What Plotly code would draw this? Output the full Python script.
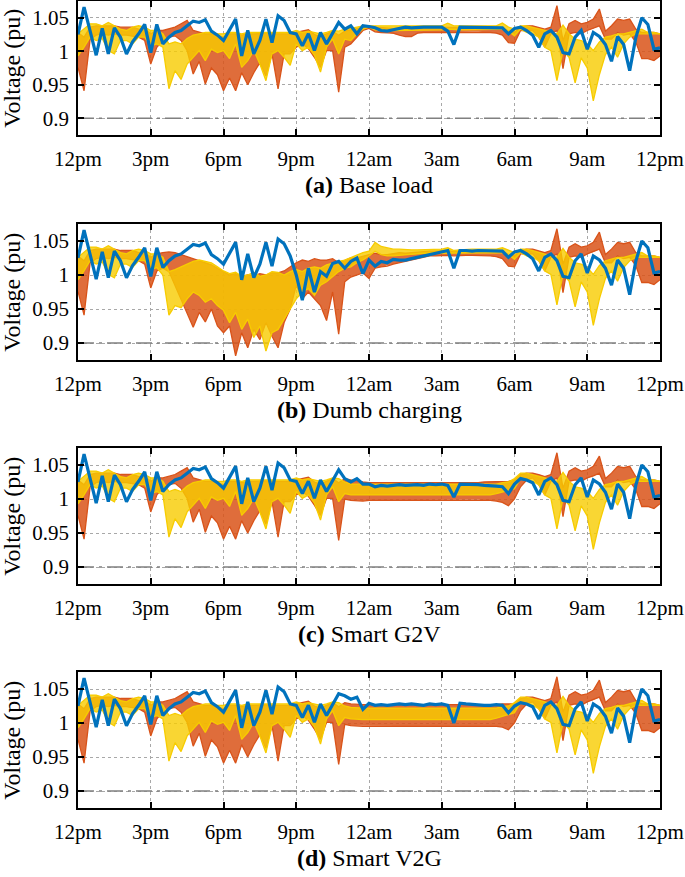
import plotly.graph_objects as go

# ---------------- data (15-minute samples, 12pm -> 12pm) ----------------
TICK_HOURS = [0, 3, 6, 9, 12, 15, 18, 21, 24]
TICK_TEXT = ["12pm", "3pm", "6pm", "9pm", "12am", "3am", "6am", "9am", "12pm"]
Y_TICKS = [0.9, 0.95, 1.0, 1.05]
Y_TICK_TEXT = ["0.9", "0.95", "1", "1.05"]
LIMIT = 0.9
HOURS = [i * 0.25 for i in range(97)]

# shared 12pm-2:45pm segment (i0-i11)
NOON_BLUE = [1.025, 1.066, 1.030, 0.994, 1.034, 0.996, 1.035, 1.021, 0.996, 1.014, 1.026, 1.040]
NOON_ORANGE_TOP = [1.028, 1.021, 1.036, 1.038, 1.038, 1.038, 1.038, 1.036, 1.036, 1.036, 1.033, 1.033]
NOON_ORANGE_BOT = [0.976, 0.941, 1.018, 1.024, 1.026, 1.024, 1.026, 1.024, 1.024, 1.022, 1.021, 1.016]
NOON_YELLOW_TOP = [1.026, 1.034, 1.041, 1.041, 1.038, 1.043, 1.038, 1.033, 1.031, 1.036, 1.038, 1.036]
NOON_YELLOW_BOT = [0.993, 1.006, 1.021, 1.016, 1.019, 1.001, 0.996, 1.016, 1.016, 1.011, 1.021, 1.021]

# shared 7am-12pm segment (i76-i96)
MORN_BLUE = [1.006, 1.026, 1.031, 1.021, 0.998, 0.996, 1.021, 1.031,
             1.003, 1.028, 1.022, 1.010, 0.985, 1.022, 1.010, 0.971, 1.020, 1.050, 1.040, 1.003, 1.005]
MORN_ORANGE_TOP = [1.036, 1.033, 1.036, 1.068, 1.016, 1.041, 1.046, 1.041,
                   1.043, 1.048, 1.063, 1.030, 1.038, 1.048, 1.046, 1.048, 1.033, 1.028, 1.028, 1.028, 1.026]
MORN_ORANGE_BOT = [1.021, 1.006, 1.026, 1.031, 0.974, 1.026, 1.028, 1.026,
                   1.031, 1.034, 1.038, 1.018, 1.018, 1.028, 1.024, 1.026, 1.014, 0.989, 0.989, 0.986, 0.993]
MORN_YELLOW_TOP = [1.033, 1.031, 1.028, 1.026, 1.039, 1.026, 1.018, 1.016,
                   1.011, 1.001, 1.014, 1.021, 1.023, 1.026, 1.026, 1.028, 1.031, 1.033, 1.028, 1.028, 1.026]
MORN_YELLOW_BOT = [1.021, 1.006, 1.001, 0.956, 1.001, 0.991, 0.953, 0.990,
                   0.975, 0.926, 0.965, 0.995, 1.006, 0.991, 1.011, 1.021, 1.026, 1.026, 1.026, 1.026, 1.026]

# scenario-specific 3pm-6:45am segments (i12-i75)
EVE_BLUE_A = [0.998, 1.040, 1.011, 1.021, 1.028, 1.031, 1.038, 1.045, 1.043, 1.047, 1.030, 1.024,
              1.016, 1.033, 1.048, 0.993, 1.031, 0.996, 1.016, 1.048, 1.013, 1.053, 1.046, 1.028,
              1.026, 1.008, 1.026, 1.001, 1.028, 1.011, 1.026, 1.043, 1.033, 1.038, 1.026, 1.038,
              1.037, 1.035, 1.031, 1.030, 1.032, 1.034, 1.036, 1.035, 1.036, 1.036, 1.036, 1.036,
              1.036, 1.030, 1.010, 1.036, 1.036, 1.035, 1.036, 1.036, 1.036, 1.036, 1.035, 1.026,
              1.034, 1.036, 1.031, 1.024]
EVE_ORANGE_TOP_A = [1.026, 1.031, 1.031, 1.033, 1.036, 1.041, 1.046, 1.031, 1.028, 1.026, 1.026, 1.023,
                    1.021, 1.026, 1.026, 1.024, 1.026, 1.026, 1.027, 1.027, 1.026, 1.026, 1.026, 1.026,
                    1.028, 1.030, 1.032, 1.025, 1.022, 1.026, 1.030, 1.024, 1.030, 1.032, 1.034, 1.036,
                    1.037, 1.036, 1.035, 1.034, 1.034, 1.035, 1.033, 1.033, 1.035, 1.036, 1.036, 1.036,
                    1.036, 1.036, 1.035, 1.036, 1.036, 1.036, 1.036, 1.036, 1.036, 1.036, 1.035, 1.030,
                    1.028, 1.036, 1.038, 1.038]
EVE_ORANGE_BOT_A = [0.981, 1.006, 1.016, 1.021, 1.023, 1.016, 1.001, 0.966, 0.985, 0.951, 0.975, 0.965,
                    0.941, 0.960, 0.941, 0.968, 0.950, 0.968, 0.983, 0.963, 0.996, 0.944, 0.996, 0.996,
                    1.006, 1.011, 1.004, 0.991, 0.976, 1.001, 1.001, 0.939, 1.006, 1.011, 1.021, 1.031,
                    1.034, 1.029, 1.028, 1.028, 1.027, 1.024, 1.022, 1.022, 1.027, 1.028, 1.028, 1.028,
                    1.029, 1.029, 1.028, 1.029, 1.029, 1.029, 1.029, 1.029, 1.028, 1.027, 1.024, 1.013,
                    1.012, 1.031, 1.031, 1.031]
EVE_YELLOW_TOP_A = [1.031, 1.031, 1.026, 1.011, 1.014, 1.011, 1.019, 1.024, 1.026, 1.028, 1.028, 1.026,
                    1.026, 1.028, 1.028, 1.026, 1.028, 1.028, 1.028, 1.028, 1.028, 1.028, 1.028, 1.028,
                    1.031, 1.028, 1.030, 1.028, 1.026, 1.028, 1.031, 1.030, 1.033, 1.034, 1.036, 1.038,
                    1.038, 1.038, 1.038, 1.038, 1.037, 1.037, 1.037, 1.037, 1.037, 1.038, 1.038, 1.038,
                    1.038, 1.042, 1.038, 1.038, 1.038, 1.038, 1.038, 1.038, 1.038, 1.038, 1.042, 1.036,
                    1.033, 1.038, 1.038, 1.036]
EVE_YELLOW_BOT_A = [1.008, 1.011, 1.006, 0.944, 0.971, 0.958, 0.981, 0.991, 1.001, 0.986, 1.003, 0.998,
                    1.001, 0.989, 1.011, 0.976, 0.986, 1.001, 0.981, 0.956, 0.996, 1.001, 0.991, 0.979,
                    1.011, 1.001, 1.006, 0.994, 0.969, 1.006, 1.018, 0.996, 1.018, 1.016, 1.026, 1.033,
                    1.036, 1.032, 1.031, 1.031, 1.031, 1.031, 1.031, 1.031, 1.032, 1.032, 1.032, 1.032,
                    1.032, 1.033, 1.032, 1.032, 1.032, 1.032, 1.032, 1.032, 1.032, 1.032, 1.033, 1.030,
                    1.023, 1.033, 1.028, 1.026]

EVE_BLUE_B = [0.998, 1.040, 1.011, 1.021, 1.028, 1.031, 1.038, 1.045, 1.043, 1.047, 1.030, 1.024,
              1.016, 1.033, 1.048, 0.993, 1.031, 0.996, 1.016, 1.048, 1.013, 1.053, 1.046, 1.028,
              1.000, 0.963, 1.010, 0.975, 1.005, 0.998, 1.017, 1.020, 1.010, 1.020, 1.025, 1.002,
              1.022, 1.013, 1.020, 1.018, 1.023, 1.022, 1.022, 1.024, 1.026, 1.028, 1.030, 1.032,
              1.034, 1.036, 1.010, 1.036, 1.036, 1.035, 1.036, 1.036, 1.036, 1.036, 1.035, 1.026,
              1.034, 1.036, 1.031, 1.024]
EVE_ORANGE_TOP_B = [1.026, 1.031, 1.033, 1.034, 1.033, 1.030, 1.028, 1.025, 1.022, 1.018, 1.015, 1.010,
                    1.005, 1.000, 1.002, 0.998, 1.000, 0.999, 1.002, 1.000, 1.003, 1.003, 1.006, 1.012,
                    1.018, 1.022, 1.020, 1.024, 1.022, 1.022, 1.024, 1.018, 1.022, 1.025, 1.025, 1.028,
                    1.030, 1.032, 1.030, 1.030, 1.031, 1.033, 1.032, 1.033, 1.034, 1.035, 1.035, 1.035,
                    1.036, 1.036, 1.034, 1.036, 1.036, 1.036, 1.036, 1.036, 1.036, 1.036, 1.035, 1.030,
                    1.028, 1.036, 1.038, 1.038]
EVE_ORANGE_BOT_B = [0.981, 1.006, 1.010, 1.005, 0.985, 0.965, 0.945, 0.923, 0.945, 0.931, 0.950, 0.925,
                    0.915, 0.925, 0.881, 0.915, 0.893, 0.920, 0.905, 0.930, 0.910, 0.893, 0.930, 0.950,
                    0.985, 0.965, 0.975, 0.965, 0.955, 0.933, 0.975, 0.913, 0.990, 0.997, 1.000, 1.003,
                    0.995, 1.010, 1.012, 1.013, 1.016, 1.018, 1.020, 1.022, 1.024, 1.026, 1.028, 1.028,
                    1.029, 1.029, 1.028, 1.029, 1.029, 1.029, 1.029, 1.029, 1.028, 1.027, 1.024, 1.013,
                    1.012, 1.031, 1.031, 1.031]
EVE_YELLOW_TOP_B = [1.031, 1.031, 1.026, 1.005, 1.008, 1.012, 1.017, 1.020, 1.022, 1.020, 1.018, 1.012,
                    1.006, 1.002, 1.004, 0.998, 1.000, 1.004, 0.998, 1.000, 1.005, 1.004, 1.000, 1.005,
                    1.008, 1.005, 1.010, 1.012, 1.010, 1.015, 1.018, 1.020, 1.022, 1.026, 1.030, 1.033,
                    1.035, 1.048, 1.042, 1.040, 1.038, 1.038, 1.037, 1.037, 1.037, 1.037, 1.037, 1.038,
                    1.038, 1.040, 1.036, 1.037, 1.038, 1.038, 1.038, 1.038, 1.038, 1.038, 1.040, 1.037,
                    1.033, 1.038, 1.038, 1.036]
EVE_YELLOW_BOT_B = [1.008, 1.011, 1.000, 0.941, 0.955, 0.952, 0.965, 0.975, 0.970, 0.960, 0.965, 0.955,
                    0.948, 0.930, 0.945, 0.920, 0.935, 0.908, 0.925, 0.888, 0.915, 0.920, 0.935, 0.950,
                    0.965, 0.975, 0.980, 0.970, 0.985, 0.990, 0.998, 1.005, 1.010, 1.012, 1.018, 1.022,
                    1.028, 1.035, 1.030, 1.028, 1.028, 1.029, 1.030, 1.030, 1.031, 1.032, 1.032, 1.032,
                    1.032, 1.033, 1.032, 1.032, 1.032, 1.032, 1.032, 1.032, 1.032, 1.032, 1.033, 1.030,
                    1.023, 1.033, 1.028, 1.026]

EVE_BLUE_C = [0.998, 1.040, 1.011, 1.021, 1.028, 1.031, 1.038, 1.045, 1.043, 1.047, 1.030, 1.024,
              1.016, 1.033, 1.048, 0.993, 1.031, 0.996, 1.016, 1.048, 1.013, 1.053, 1.046, 1.028,
              1.026, 1.008, 1.026, 1.001, 1.028, 1.011, 1.026, 1.043, 1.030, 1.025, 1.030, 1.022,
              1.022, 1.018, 1.020, 1.019, 1.020, 1.021, 1.020, 1.021, 1.021, 1.020, 1.022, 1.021,
              1.022, 1.020, 1.003, 1.022, 1.022, 1.021, 1.021, 1.020, 1.020, 1.019, 1.018, 1.008,
              1.022, 1.030, 1.028, 1.024]
EVE_ORANGE_TOP_C = [1.026, 1.031, 1.031, 1.033, 1.036, 1.041, 1.046, 1.031, 1.028, 1.026, 1.026, 1.023,
                    1.021, 1.026, 1.026, 1.024, 1.026, 1.026, 1.027, 1.027, 1.026, 1.026, 1.026, 1.026,
                    1.028, 1.030, 1.032, 1.025, 1.022, 1.026, 1.030, 1.024, 1.030, 1.028, 1.026, 1.025,
                    1.024, 1.024, 1.024, 1.024, 1.024, 1.024, 1.024, 1.024, 1.024, 1.024, 1.024, 1.024,
                    1.024, 1.024, 1.023, 1.024, 1.024, 1.024, 1.024, 1.025, 1.025, 1.025, 1.026, 1.026,
                    1.028, 1.036, 1.038, 1.038]
EVE_ORANGE_BOT_C = [0.981, 1.006, 1.016, 1.021, 1.023, 1.016, 1.001, 0.966, 0.985, 0.951, 0.975, 0.965,
                    0.941, 0.960, 0.941, 0.968, 0.950, 0.968, 0.983, 0.963, 0.996, 0.944, 0.996, 0.996,
                    1.006, 1.011, 1.004, 0.991, 0.976, 1.001, 1.001, 0.939, 1.000, 0.998, 0.997, 0.997,
                    0.998, 0.998, 0.998, 0.998, 0.999, 0.999, 0.999, 0.999, 0.999, 0.999, 0.999, 0.999,
                    0.999, 0.999, 0.998, 0.999, 0.999, 0.999, 0.999, 0.999, 0.998, 0.997, 0.995, 0.990,
                    1.000, 1.018, 1.028, 1.031]
EVE_YELLOW_TOP_C = [1.031, 1.031, 1.026, 1.011, 1.014, 1.011, 1.019, 1.024, 1.026, 1.028, 1.028, 1.026,
                    1.026, 1.028, 1.028, 1.026, 1.028, 1.028, 1.028, 1.028, 1.028, 1.028, 1.028, 1.028,
                    1.031, 1.028, 1.030, 1.028, 1.026, 1.028, 1.031, 1.030, 1.025, 1.022, 1.022, 1.021,
                    1.021, 1.021, 1.021, 1.021, 1.021, 1.021, 1.021, 1.021, 1.021, 1.021, 1.021, 1.022,
                    1.022, 1.022, 1.021, 1.021, 1.021, 1.021, 1.021, 1.021, 1.022, 1.022, 1.024, 1.025,
                    1.030, 1.038, 1.038, 1.036]
EVE_YELLOW_BOT_C = [1.008, 1.011, 1.006, 0.944, 0.971, 0.958, 0.981, 0.991, 1.001, 0.986, 1.003, 0.998,
                    1.001, 0.989, 1.011, 0.976, 0.986, 1.001, 0.981, 0.956, 0.996, 1.001, 0.991, 0.979,
                    1.011, 1.001, 1.006, 0.994, 0.969, 1.006, 1.018, 0.996, 1.008, 1.006, 1.006, 1.006,
                    1.006, 1.006, 1.006, 1.006, 1.006, 1.006, 1.006, 1.006, 1.006, 1.006, 1.006, 1.006,
                    1.006, 1.006, 1.006, 1.006, 1.006, 1.006, 1.006, 1.006, 1.006, 1.008, 1.010, 1.012,
                    1.015, 1.030, 1.028, 1.026]

EVE_BLUE_D = [0.998, 1.040, 1.011, 1.021, 1.028, 1.031, 1.038, 1.045, 1.043, 1.047, 1.030, 1.024,
              1.016, 1.033, 1.048, 0.993, 1.031, 0.996, 1.016, 1.048, 1.013, 1.053, 1.046, 1.028,
              1.026, 1.008, 1.026, 1.001, 1.028, 1.011, 1.026, 1.043, 1.040, 1.035, 1.038, 1.020,
              1.029, 1.026, 1.027, 1.026, 1.027, 1.028, 1.027, 1.028, 1.027, 1.026, 1.028, 1.027,
              1.028, 1.026, 1.000, 1.029, 1.028, 1.027, 1.027, 1.026, 1.026, 1.027, 1.026, 1.015,
              1.025, 1.030, 1.028, 1.024]
EVE_ORANGE_TOP_D = [1.026, 1.031, 1.031, 1.033, 1.036, 1.041, 1.046, 1.031, 1.028, 1.026, 1.026, 1.023,
                    1.021, 1.026, 1.026, 1.024, 1.026, 1.026, 1.027, 1.027, 1.026, 1.026, 1.026, 1.026,
                    1.028, 1.030, 1.032, 1.025, 1.022, 1.026, 1.030, 1.024, 1.030, 1.028, 1.027, 1.027,
                    1.027, 1.027, 1.027, 1.027, 1.027, 1.027, 1.027, 1.027, 1.027, 1.027, 1.027, 1.027,
                    1.027, 1.027, 1.026, 1.027, 1.027, 1.027, 1.027, 1.027, 1.027, 1.027, 1.028, 1.028,
                    1.028, 1.036, 1.038, 1.038]
EVE_ORANGE_BOT_D = [0.981, 1.006, 1.016, 1.021, 1.023, 1.016, 1.001, 0.966, 0.985, 0.951, 0.975, 0.965,
                    0.941, 0.960, 0.941, 0.968, 0.950, 0.968, 0.983, 0.963, 0.996, 0.944, 0.996, 0.996,
                    1.006, 1.011, 1.004, 0.991, 0.976, 1.001, 1.001, 0.939, 0.998, 0.996, 0.995, 0.995,
                    0.995, 0.995, 0.995, 0.995, 0.996, 0.996, 0.996, 0.996, 0.996, 0.996, 0.996, 0.996,
                    0.996, 0.996, 0.995, 0.996, 0.996, 0.996, 0.996, 0.996, 0.995, 0.995, 0.994, 0.990,
                    1.000, 1.018, 1.028, 1.031]
EVE_YELLOW_TOP_D = [1.031, 1.031, 1.026, 1.011, 1.014, 1.011, 1.019, 1.024, 1.026, 1.028, 1.028, 1.026,
                    1.026, 1.028, 1.028, 1.026, 1.028, 1.028, 1.028, 1.028, 1.028, 1.028, 1.028, 1.028,
                    1.031, 1.028, 1.030, 1.028, 1.026, 1.028, 1.031, 1.030, 1.025, 1.023, 1.022, 1.022,
                    1.022, 1.022, 1.022, 1.022, 1.022, 1.022, 1.022, 1.022, 1.022, 1.022, 1.022, 1.022,
                    1.022, 1.022, 1.022, 1.022, 1.022, 1.022, 1.022, 1.022, 1.022, 1.022, 1.024, 1.025,
                    1.030, 1.038, 1.038, 1.036]
EVE_YELLOW_BOT_D = [1.008, 1.011, 1.006, 0.944, 0.971, 0.958, 0.981, 0.991, 1.001, 0.986, 1.003, 0.998,
                    1.001, 0.989, 1.011, 0.976, 0.986, 1.001, 0.981, 0.956, 0.996, 1.001, 0.991, 0.979,
                    1.011, 1.001, 1.006, 0.994, 0.969, 1.006, 1.018, 0.996, 1.008, 1.006, 1.005, 1.005,
                    1.005, 1.005, 1.005, 1.005, 1.005, 1.005, 1.005, 1.005, 1.005, 1.005, 1.005, 1.005,
                    1.005, 1.005, 1.005, 1.005, 1.005, 1.005, 1.005, 1.005, 1.005, 1.007, 1.010, 1.012,
                    1.015, 1.030, 1.028, 1.026]

PANEL_TITLES = ["<b>(a)</b> Base load", "<b>(b)</b> Dumb charging",
                "<b>(c)</b> Smart G2V", "<b>(d)</b> Smart V2G"]

# ---------------- styling ----------------
ORANGE = "#D95319"
YELLOW = "#F7CC00"
BLUE = "#0072BD"
ORANGE_FILL = "rgba(217,83,25,0.85)"
YELLOW_FILL = "rgba(247,204,0,0.8)"
FONT = "Liberation Serif"


def series(noon, eve, morn):
    out = noon + eve + morn
    assert len(out) == 97, len(out)
    return out


panels = [
    (EVE_BLUE_A, EVE_ORANGE_TOP_A, EVE_ORANGE_BOT_A, EVE_YELLOW_TOP_A, EVE_YELLOW_BOT_A),
    (EVE_BLUE_B, EVE_ORANGE_TOP_B, EVE_ORANGE_BOT_B, EVE_YELLOW_TOP_B, EVE_YELLOW_BOT_B),
    (EVE_BLUE_C, EVE_ORANGE_TOP_C, EVE_ORANGE_BOT_C, EVE_YELLOW_TOP_C, EVE_YELLOW_BOT_C),
    (EVE_BLUE_D, EVE_ORANGE_TOP_D, EVE_ORANGE_BOT_D, EVE_YELLOW_TOP_D, EVE_YELLOW_BOT_D),
]

PLOT_BOTTOM = 808.0   # px of paper bottom (height - bottom margin)
panel_px = [(1, 135), (224, 360), (448, 584), (672, 808)]

fig = go.Figure()


def band(x, top, bot, color, fill, xa, ya, width):
    fig.add_trace(go.Scatter(
        x=x + x[::-1], y=top + bot[::-1], mode="lines", fill="toself",
        fillcolor=fill, line=dict(color=color, width=0), xaxis=xa, yaxis=ya,
        showlegend=False, hoverinfo="skip"))
    for s in (top, bot):
        fig.add_trace(go.Scatter(
            x=x, y=s, mode="lines", line=dict(color=color, width=width),
            xaxis=xa, yaxis=ya, showlegend=False, hoverinfo="skip"))


layout_axes = {}
annotations = []
for k, (eb, eot, eob, eyt, eyb) in enumerate(panels):
    xa = "x" if k == 0 else f"x{k + 1}"
    ya = "y" if k == 0 else f"y{k + 1}"
    blue = series(NOON_BLUE, eb, MORN_BLUE)
    otop = series(NOON_ORANGE_TOP, eot, MORN_ORANGE_TOP)
    obot = series(NOON_ORANGE_BOT, eob, MORN_ORANGE_BOT)
    ytop = series(NOON_YELLOW_TOP, eyt, MORN_YELLOW_TOP)
    ybot = series(NOON_YELLOW_BOT, eyb, MORN_YELLOW_BOT)

    fig.add_trace(go.Scatter(
        x=[TICK_HOURS[0], TICK_HOURS[-1]], y=[LIMIT, LIMIT], mode="lines",
        line=dict(color="#808080", width=1.5, dash="16px,5px,3px,5px"),
        xaxis=xa, yaxis=ya, showlegend=False, hoverinfo="skip"))
    band(HOURS, otop, obot, ORANGE, ORANGE_FILL, xa, ya, 1.3)
    band(HOURS, ytop, ybot, YELLOW, YELLOW_FILL, xa, ya, 1.3)
    fig.add_trace(go.Scatter(
        x=HOURS, y=blue, mode="lines", line=dict(color=BLUE, width=3.2),
        xaxis=xa, yaxis=ya, showlegend=False, hoverinfo="skip"))

    top_px, bot_px = panel_px[k]
    d0 = (PLOT_BOTTOM - bot_px) / PLOT_BOTTOM
    d1 = (PLOT_BOTTOM - top_px) / PLOT_BOTTOM
    key_x = "xaxis" if k == 0 else f"xaxis{k + 1}"
    key_y = "yaxis" if k == 0 else f"yaxis{k + 1}"
    common = dict(showline=True, linecolor="black", linewidth=1.5, mirror="ticks",
                  ticks="inside", ticklen=6, tickwidth=1.5, tickcolor="black",
                  showgrid=True, gridcolor="#a8a8a8", griddash="dot", gridwidth=1,
                  zeroline=False, tickfont=dict(family=FONT, size=21, color="black"))
    layout_axes[key_x] = dict(common, domain=[0, 1], range=[0, 24], tickvals=TICK_HOURS,
                              ticktext=TICK_TEXT, anchor=ya, ticklabelstandoff=4)
    layout_axes[key_y] = dict(common, domain=[d0, d1], range=[0.875, 1.075], tickvals=Y_TICKS,
                              ticktext=Y_TICK_TEXT, anchor=xa, ticklabelstandoff=3)

    annotations.append(dict(
        text="Voltage (pu)", xref="paper", yref="paper", x=-0.114,
        y=(PLOT_BOTTOM - (top_px + bot_px) / 2) / PLOT_BOTTOM,
        xanchor="center", yanchor="middle", textangle=-90, showarrow=False,
        font=dict(family=FONT, size=24, color="black")))
    annotations.append(dict(
        text=PANEL_TITLES[k], xref="paper", yref="paper", x=0.5,
        y=(PLOT_BOTTOM - (bot_px + 50)) / PLOT_BOTTOM,
        xanchor="center", yanchor="middle", showarrow=False,
        font=dict(family=FONT, size=24, color="black")))

fig.update_layout(
    width=685, height=877,
    margin=dict(l=78, r=25, t=0, b=69),
    paper_bgcolor="white", plot_bgcolor="white",
    annotations=annotations,
    **layout_axes,
)

fig.write_html("out.html", config={"displayModeBar": False},
               post_script="document.body.style.margin='0px';")
